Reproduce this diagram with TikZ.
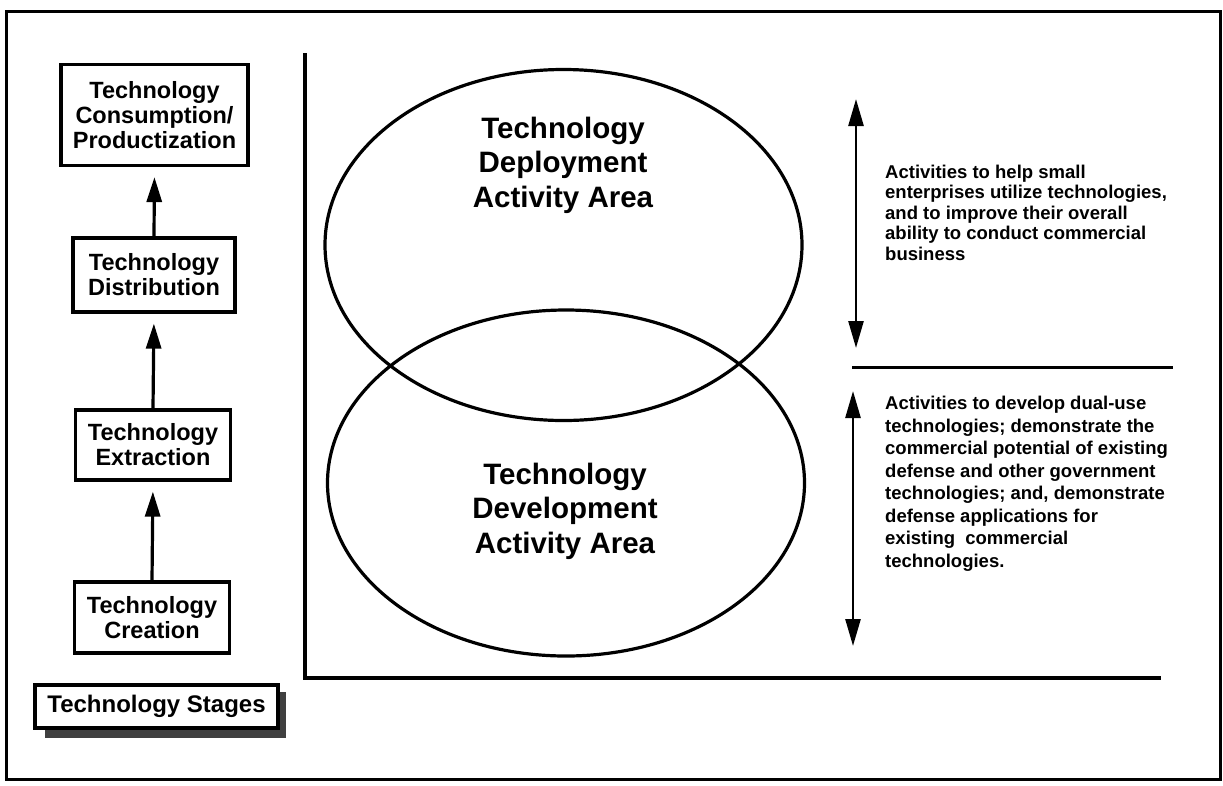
\documentclass[tikz,border=0pt]{standalone}
\usepackage{fontspec}
\setmainfont{Liberation Sans}
\usetikzlibrary{shapes.geometric,arrows.meta}
\begin{document}
\begin{tikzpicture}[x=1pt,y=-1pt,
 stagebox/.style={draw,line width=3.2pt,align=center,font=\fontsize{23.5}{25}\selectfont\bfseries,inner sep=0pt},
 uparrow/.style={line width=3.2pt,-{Triangle[length=25pt,width=15pt]},shorten >=10pt},
 area/.style={draw,ellipse,line width=3.2pt,inner sep=0pt},
 areatext/.style={align=center,font=\fontsize{29.5}{34.5}\selectfont\bfseries},
 desc/.style={align=left,anchor=base west,font=\fontsize{18.5}{20.5}\selectfont\bfseries,inner sep=0pt},
 desctwo/.style={desc,font=\fontsize{18.5}{22.5}\selectfont\bfseries},
 dbl/.style={line width=2.6pt,{Triangle[length=27pt,width=15pt]}-{Triangle[length=27pt,width=15pt]}},
 axis/.style={line width=3.4pt},
 shadow/.style={fill=black!75,draw=none}]
\useasboundingbox (0,0) rectangle (1223,785);
% outer frame
\draw[line width=3pt] (6,11) rectangle (1220,779);

% stage boxes
\node[stagebox,minimum width=187pt,minimum height=101pt] (cons) at (154.5,115) {Technology\\Consumption/\\Productization};
\node[stagebox,minimum width=162pt,minimum height=74pt] (dist) at (154,275) {Technology\\Distribution};
\node[stagebox,minimum width=155pt,minimum height=70pt] (extr) at (153,445) {Technology\\Extraction};
\node[stagebox,minimum width=155pt,minimum height=71pt] (crea) at (152,617.5) {Technology\\Creation};

\draw[uparrow] (dist.north) -- (cons.south);
\draw[uparrow] (extr.north) -- (dist.south);
\draw[uparrow] (crea.north) -- (extr.south);

% technology stages label with shadow
\fill[shadow] (45,728) rectangle (286,738);
\fill[shadow] (278,692) rectangle (286,738);
\node[stagebox,fill=white,font=\fontsize{24}{25}\selectfont\bfseries,minimum width=243pt,minimum height=43pt] (stages) at (156.5,706.5) {Technology Stages};

% axes
\coordinate (axtop) at (305,53);
\coordinate (axorig) at (305,678);
\coordinate (axright) at (1161,678);
\draw[axis] (axtop) -- (axorig) -- (axright);

% ellipses
\node[area,minimum width=477pt,minimum height=351pt] (dep) at (563.5,245) {};
\node[area,minimum width=477pt,minimum height=346pt] (dev) at (566,483) {};
\node[areatext] (deptext) at (563,165) {Technology\\Deployment\\Activity Area};
\node[areatext] (devtext) at (565,511) {Technology\\Development\\Activity Area};

% separator
\coordinate (sepl) at (852,367);
\coordinate (sepr) at (1173,367);
\draw[line width=3pt] (sepl) -- (sepr);

% double arrows
\coordinate (da1t) at (856,99);
\coordinate (da1b) at (856,348);
\coordinate (da2t) at (853,391);
\coordinate (da2b) at (853,646);
\draw[dbl] (da1t) -- (da1b);
\draw[dbl] (da2t) -- (da2b);

% descriptions (anchored at the baseline of the last line)
\node[desc] (d1) at (885,260) {Activities to help small\\enterprises utilize technologies,\\and to improve their overall\\ability to conduct commercial\\business};
\node[desctwo] (d2) at (885,567) {Activities to develop dual-use\\technologies; demonstrate the\\commercial potential of existing\\defense and other government\\technologies; and, demonstrate\\defense applications for\\existing\ \ commercial\\technologies.};
\end{tikzpicture}
\end{document}
